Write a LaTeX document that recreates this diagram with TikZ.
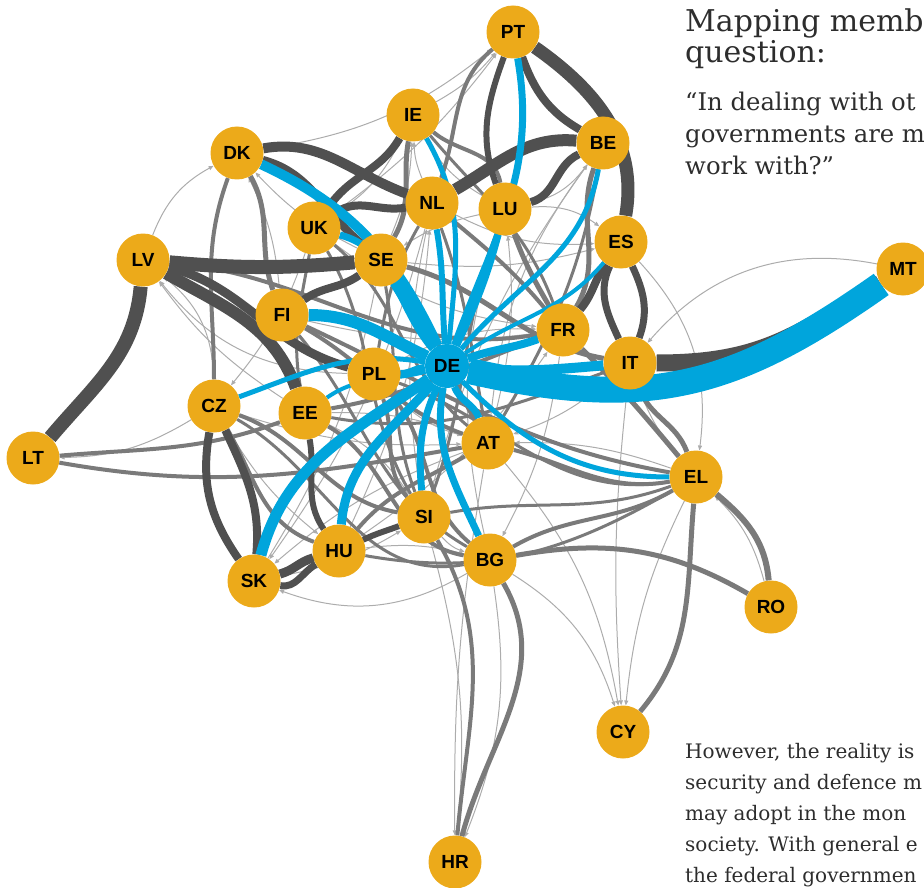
\documentclass[tikz,border=0pt]{standalone}
\usepackage{fontspec}
\setmainfont{DejaVu Serif}
\setsansfont{Liberation Sans}
\usetikzlibrary{arrows.meta}

\definecolor{nodegold}{RGB}{236,170,26}
\definecolor{linkblue}{RGB}{0,165,220}
\definecolor{linkdark}{RGB}{80,80,80}
\definecolor{linkmid}{RGB}{122,122,122}
\definecolor{linklight}{RGB}{172,172,172}
\definecolor{inkgray}{RGB}{45,45,45}

\pgfdeclarelayer{links}
\pgfsetlayers{links,main}

\tikzset{
  country/.style={circle, fill=nodegold, inner sep=0pt, minimum size=53pt,
    font=\sffamily\bfseries\fontsize{19}{19}\selectfont},
  hub/.style={circle, fill=linkblue, inner sep=0pt, minimum size=44pt,
    font=\sffamily\bfseries\fontsize{19}{19}\selectfont},
  bluelink/.style={draw=linkblue, line width=#1},
  darklink/.style={draw=linkdark, line width=#1},
  midlink/.style={draw=linkmid, line width=#1},
  thinlink/.style={draw=linklight, line width=1pt, -{Triangle[length=5pt,width=4pt]}},
  headtext/.style={anchor=base west, inner sep=0pt, text=inkgray, font=\fontsize{30}{30}\selectfont},
  quotetext/.style={anchor=base west, inner sep=0pt, text=inkgray, font=\fontsize{24.3}{24.3}\selectfont},
  bodytext/.style={anchor=base west, inner sep=0pt, text=inkgray, font=\fontsize{20}{20}\selectfont},
}

\begin{document}
\begin{tikzpicture}[x=1pt, y=1pt]
  \useasboundingbox (0,0) rectangle (924,-888);
  \clip (0,0) rectangle (924,-888);

  % countries
  \node[country] (PT) at (513,-32) {PT};
  \node[country] (IE) at (413,-115) {IE};
  \node[country] (BE) at (603,-143) {BE};
  \node[country] (DK) at (237,-153) {DK};
  \node[country] (NL) at (432,-203) {NL};
  \node[country] (LU) at (505,-209) {LU};
  \node[country] (UK) at (314,-228) {UK};
  \node[country] (ES) at (621,-242) {ES};
  \node[country] (LV) at (143,-260) {LV};
  \node[country] (SE) at (381,-260) {SE};
  \node[country] (MT) at (903,-269) {MT};
  \node[country] (FI) at (282,-315) {FI};
  \node[country] (FR) at (563,-330) {FR};
  \node[country] (IT) at (630,-363) {IT};
  \node[country] (PL) at (374,-374) {PL};
  \node[country] (CZ) at (214,-406) {CZ};
  \node[country] (EE) at (305,-413) {EE};
  \node[country] (AT) at (488,-443) {AT};
  \node[country] (LT) at (33,-458) {LT};
  \node[country] (EL) at (696,-477) {EL};
  \node[country] (SI) at (424,-517) {SI};
  \node[country] (HU) at (339,-551) {HU};
  \node[country] (BG) at (490,-560) {BG};
  \node[country] (SK) at (254,-581) {SK};
  \node[country] (RO) at (771,-607) {RO};
  \node[country] (CY) at (623,-732) {CY};
  \node[country] (HR) at (455,-862) {HR};
  \node[hub] (DE) at (447,-366) {DE};

  % text beside the graph
  \node[headtext] (head1) at (685,-32) {Mapping memb};
  \node[headtext] (head2) at (685,-63) {question:};
  \node[quotetext] (quote1) at (685,-111) {“In dealing with ot};
  \node[quotetext] (quote2) at (685,-143) {governments are m};
  \node[quotetext] (quote3) at (685,-175) {work with?”};
  \node[bodytext] (body1) at (685,-758) {However, the reality is};
  \node[bodytext] (body2) at (685,-789) {security and defence m};
  \node[bodytext] (body3) at (685,-820) {may adopt in the mon};
  \node[bodytext] (body4) at (685,-851) {society. With general e};
  \node[bodytext] (body5) at (685,-882) {the federal governmen};

  \begin{pgfonlayer}{links}
    % weak links
    \foreach \a/\b/\bend in {CZ/LT/15, IE/PT/-10, DK/PT/-15, UK/PT/-8, MT/IT/-30,
        ES/EL/25, BG/CY/20, AT/CY/15, EL/CY/-10, IT/CY/-5, BG/SK/25, LV/DK/20,
        FI/LV/15, PL/LV/25, CZ/LV/-25, EE/LV/10, SE/DK/10, FI/DK/-10, NL/IE/10,
        LU/IE/15, SE/IE/-10, AT/LU/-10, SI/NL/10, HU/NL/-10, BG/LU/15, SK/SE/-10,
        EL/IT/10, RO/EL/-15, HU/BG/10, SI/BG/-15, SK/SI/-10, PL/AT/-15, EE/AT/10,
        CZ/AT/-10, FI/FR/-10, UK/FR/-15, SE/ES/-10, NL/ES/-15, LU/ES/20, AT/BE/15,
        SI/BE/10, HU/FR/-10, PL/FR/15, EE/SI/15, CZ/HU/-10, SI/HR/10, AT/HR/-5,
        BG/HR/15, EL/AT/-10, IT/AT/10, FR/BG/10, BE/LU/20, UK/CZ/10, FI/PL/-20,
        IE/UK/15, LU/SE/-10, NL/SK/10, AT/SK/-10}
      \draw[thinlink] (\a) to[bend left=\bend] (\b);

    % middle links
    \foreach \a/\b/\o/\i/\w in {EL/RO/-40/95/6, BG/RO/10/150/5, EL/CY/-95/50/5,
        BG/HR/-60/75/5, SI/HR/-60/85/4, LT/EE/5/200/4, LT/AT/-10/-170/4,
        AT/EL/-15/190/4, FR/EL/-45/130/5, IT/EL/-70/110/5, SE/AT/-50/120/4,
        FI/AT/-30/160/4, UK/SI/-60/120/3, PL/BG/-50/140/4, CZ/SI/-20/170/4,
        SK/SI/20/200/4, HU/AT/50/-150/4, BG/EL/30/-150/4, IE/SE/-100/60/5,
        DK/FI/-60/110/5, PT/NL/-140/70/4, LU/FR/-70/120/5, BE/FR/-110/60/5,
        NL/FR/-40/130/4, SE/IT/-15/170/5, FI/EL/-25/170/4, EE/BG/-30/170/4,
        PL/SI/-70/130/4, CZ/HU/-60/160/4, UK/EE/-100/100/3, DK/CZ/-110/90/4,
        LV/FR/-5/190/4, EE/FR/10/-160/4, IE/LU/-40/100/4, SI/EL/10/200/3,
        HU/EL/-10/210/3, SE/SI/-80/110/3, UK/AT/-40/140/3, NL/AT/-70/100/3,
        LU/SI/-110/70/3, FI/BG/-50/150/3, PL/EL/-20/190/3, IE/FR/-50/110/3,
        BE/AT/-100/60/3, CZ/BG/-30/190/3, NL/PL/-120/80/3, EE/IT/-10/200/3}
      \draw[midlink=\w] (\a) to[out=\o,in=\i] (\b);

    % strong links
    \foreach \a/\b/\o/\i/\w in {PT/ES/-35/80/13, PT/BE/-70/150/8, PT/LU/-110/110/6,
        NL/BE/30/175/12, LU/BE/15/205/8, DK/NL/10/160/10, DK/SE/-15/140/8,
        IE/UK/-120/55/8, UK/NL/35/190/8, LV/SE/-5/185/14, LV/EE/-30/110/12,
        LT/LV/50/-95/14, LV/PL/-15/165/9, CZ/SK/-100/125/8, CZ/SK/-65/85/8,
        SK/HU/15/195/9, SK/HU/-10/-150/7, HU/SI/25/200/6, EE/HU/-80/125/6,
        ES/IT/-115/115/7, ES/IT/-65/70/7, FR/ES/50/-125/8, FI/SE/35/-145/8}
      \draw[darklink=\w] (\a) to[out=\o,in=\i] (\b);
    \draw[darklink=17] (IT) to[out=0,in=212,looseness=1.1] (MT);

    % links from DE
    \foreach \a/\o/\i/\w in {DK/115/-25/10, SE/120/-60/9, UK/130/-15/7,
        IE/85/-60/5, NL/95/-80/6, LU/65/-105/7, PT/70/-80/7, BE/50/-100/5,
        ES/35/-130/4, FR/20/200/8, IT/-5/185/10, EL/-45/180/5, AT/-70/110/7,
        BG/-100/115/7, SI/-115/95/7, HU/-130/85/9, SK/-145/75/11, EE/-165/35/4,
        CZ/170/20/5, PL/185/0/8, FI/155/0/12}
      \draw[bluelink=\w] (DE) to[out=\o,in=\i] (\a);
    \draw[bluelink=26] (DE) .. controls +(200,-45) and +(-170,-120) .. (MT);
  \end{pgfonlayer}
\end{tikzpicture}
\end{document}
